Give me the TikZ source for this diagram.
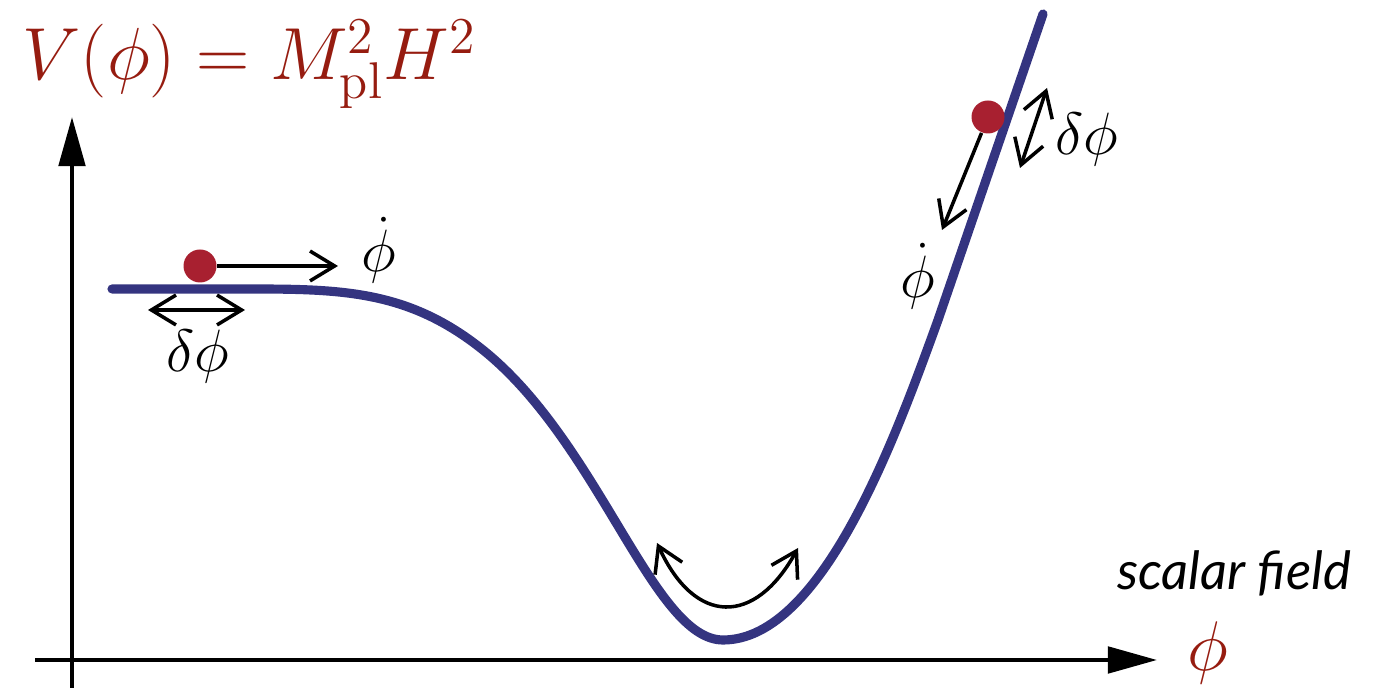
\RequirePackage{fix-cm}
\documentclass[tikz,border=0pt]{standalone}
\usepackage{fontspec}
\newfontfamily\labelfont{Lato}
\usetikzlibrary{arrows.meta}
\definecolor{potblue}{RGB}{52,52,128}
\definecolor{ballred}{RGB}{168,32,48}
\definecolor{eqred}{RGB}{150,28,16}
\tikzset{
  ball/.style={circle,fill=ballred,inner sep=0pt,minimum size=0.33cm},
  barb/.style={line width=1pt,-{Straight Barb[length=7pt,width=8.5pt]}},
  dbarb/.style={line width=1pt,{Straight Barb[length=7pt,width=8.5pt]}-{Straight Barb[length=7pt,width=8.5pt]}},
  axis/.style={line width=1.2pt,-{Triangle[length=14pt,width=7.5pt]}},
  lbl/.style={font=\fontsize{17}{20}\selectfont,inner sep=0pt}
}
\begin{document}
\begin{tikzpicture}
  \useasboundingbox (0,0) rectangle (13.84,6.88);
  % axes
  \coordinate (ybot) at (0.72,0);
  \coordinate (ytop) at (0.72,5.71);
  \coordinate (xleft) at (0.35,0.28);
  \coordinate (xright) at (11.57,0.28);
  \draw[axis] (ybot) -- (ytop);
  \draw[axis] (xleft) -- (xright);
  \node[anchor=base west,inner sep=0pt,text=eqred,font=\fontsize{21}{24}\selectfont]
    (pot) at (0.22,6.08) {$V(\phi)=M_{\rm pl}^2H^2$};
  \node[anchor=base,inner sep=0pt,text=eqred,font=\fontsize{20}{24}\selectfont]
    (phiax) at (12.08,0.17) {$\phi$};
  \node[anchor=base,inner sep=0pt,font=\labelfont\itshape\fontsize{15}{18}\selectfont]
    (sfield) at (12.34,0.98) {scalar field};
  % potential
  \draw[potblue,line width=2.6pt,line cap=round]
    (1.12,3.99) -- (2.50,3.99) to[out=0,in=141.3] (4.83,3.38)
    .. controls (6.00,2.44) and (6.53,0.48) .. (7.23,0.48)
    .. controls (8.23,0.48) and (8.97,2.55) .. (9.38,3.68) -- (10.43,6.74);
  % slow roll
  \node[ball] (ballL) at (2.00,4.22) {};
  \coordinate (velL) at (3.38,4.22);
  \draw[barb] (ballL) -- (velL);
  \node[lbl,anchor=base] (dotL) at (3.79,4.16) {$\dot\phi$};
  \coordinate (flucLa) at (1.48,3.78);
  \coordinate (flucLb) at (2.45,3.78);
  \draw[dbarb] (flucLa) -- (flucLb);
  \node[lbl,anchor=base] (dphiL) at (1.98,3.16) {$\delta\phi$};
  % steep side
  \node[ball] (ballR) at (9.88,5.71) {};
  \coordinate (velR) at (9.42,4.58);
  \draw[barb] (ballR) -- (velR);
  \node[lbl,anchor=base] (dotR) at (9.18,3.90) {$\dot\phi$};
  \coordinate (flucRa) at (10.47,6.00);
  \coordinate (flucRb) at (10.20,5.20);
  \draw[dbarb] (flucRa) -- (flucRb);
  \node[lbl,anchor=base] (dphiR) at (10.87,5.33) {$\delta\phi$};
  % oscillation
  \coordinate (oscL) at (6.57,1.45);
  \coordinate (oscR) at (7.98,1.40);
  \draw[dbarb] (oscL) .. controls (6.95,0.62) and (7.55,0.62) .. (oscR);
\end{tikzpicture}
\end{document}
